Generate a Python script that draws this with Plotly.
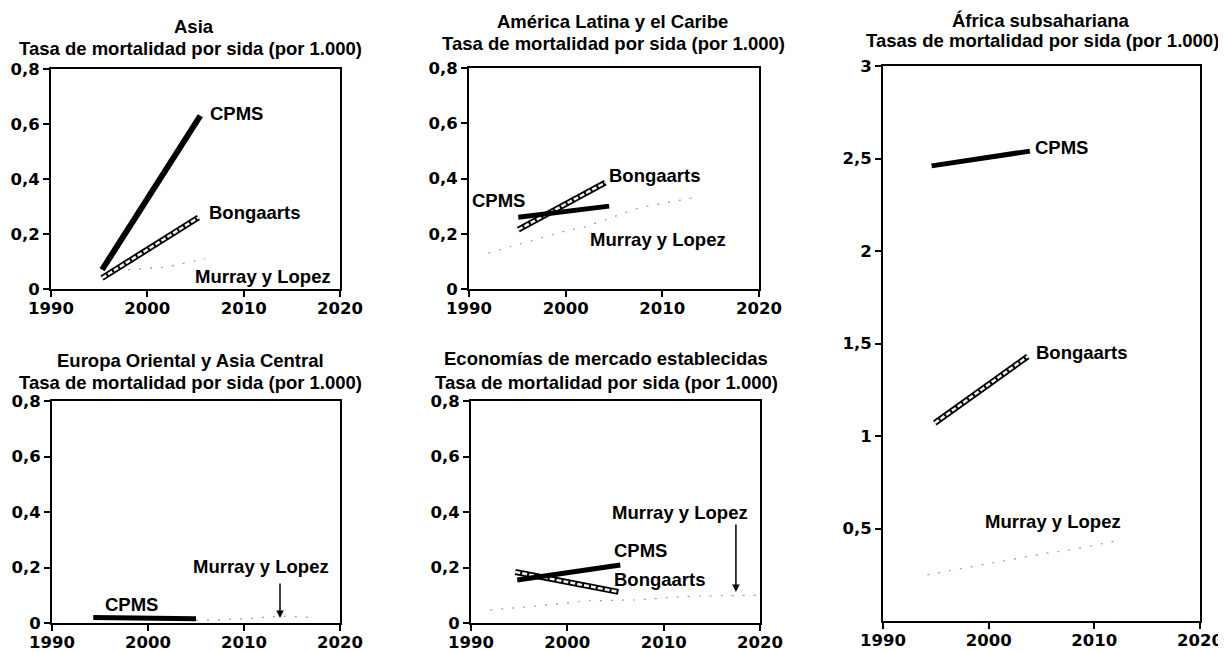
import plotly.graph_objects as go
from plotly.subplots import make_subplots

# the page puts the figure 8px in from the top-left corner
PAGE_OFF = 8
W, H = 1226 - PAGE_OFF, 652 - PAGE_OFF

# ---- data ----
year_ticks = [1990, 2000, 2010, 2020]
year_labels = ["1990", "2000", "2010", "2020"]
rate_ticks = [0, 0.2, 0.4, 0.6, 0.8]
rate_labels = ["0", "0,2", "0,4", "0,6", "0,8"]
africa_ticks = [0.5, 1, 1.5, 2, 2.5, 3]
africa_labels = ["0,5", "1", "1,5", "2", "2,5", "3"]

# Asia
asia_cpms_x = [1995.3, 2005.5]
asia_cpms_y = [0.07, 0.63]
asia_bong_x = [1995.3, 2005.3]
asia_bong_y = [0.04, 0.26]
asia_ml_x = [1998, 2002, 2006]
asia_ml_y = [0.07, 0.08, 0.11]

# América Latina y el Caribe
latam_cpms_x = [1995.1, 2004.5]
latam_cpms_y = [0.26, 0.30]
latam_bong_x = [1995.1, 2004.1]
latam_bong_y = [0.215, 0.385]
latam_ml_x = [1992, 1994, 2000, 2002, 2007.7, 2013.2]
latam_ml_y = [0.13, 0.15, 0.21, 0.225, 0.295, 0.33]

# África subsahariana
africa_cpms_x = [1994.6, 2003.9]
africa_cpms_y = [2.46, 2.54]
africa_bong_x = [1994.9, 2003.7]
africa_bong_y = [1.07, 1.43]
africa_ml_x = [1994.2, 2000.1, 2001.8, 2005.8, 2007.4, 2011.8]
africa_ml_y = [0.25, 0.31, 0.33, 0.37, 0.38, 0.43]

# Europa Oriental y Asia Central
europe_cpms_x = [1994.3, 2005.0]
europe_cpms_y = [0.02, 0.015]
europe_ml_x = [2005, 2010, 2014, 2017]
europe_ml_y = [0.01, 0.015, 0.025, 0.02]

# Economías de mercado establecidas
eme_cpms_x = [1994.8, 2005.5]
eme_cpms_y = [0.155, 0.209]
eme_bong_x = [1994.6, 2005.3]
eme_bong_y = [0.184, 0.112]
eme_ml_x = [1992, 1998, 2002, 2007, 2013, 2017, 2020]
eme_ml_y = [0.047, 0.065, 0.08, 0.083, 0.097, 0.1, 0.1]

TEXT_FONT = dict(family="Liberation Sans", size=18.5, color="black", weight="bold")
TICK_FONT = dict(family="DejaVu Sans", size=16.5, color="black", weight="bold")

fig = make_subplots(
    rows=2, cols=3,
    specs=[[{}, {}, {"rowspan": 2}], [{}, {}, None]],
)


def px_x(px):
    return (px - PAGE_OFF) / W


def px_y(py):
    return 1 - (py - PAGE_OFF) / H


def dom(x0, x1, y0, y1):
    # page pixel box -> paper domains
    return [px_x(x0), px_x(x1)], [px_y(y1), px_y(y0)]


def add_cpms(x, y, row, col, width=6):
    fig.add_trace(go.Scatter(x=x, y=y, mode="lines",
                             line=dict(color="black", width=width)), row=row, col=col)


def add_bong(x, y, row, col):
    # double line with a hatched light core
    fig.add_trace(go.Scatter(x=x, y=y, mode="lines",
                             line=dict(color="black", width=6)), row=row, col=col)
    fig.add_trace(go.Scatter(x=x, y=y, mode="lines",
                             line=dict(color="#f2f2f2", width=2.5, dash="5px,2px")), row=row, col=col)


def add_ml(x, y, row, col):
    fig.add_trace(go.Scatter(x=x, y=y, mode="lines",
                             line=dict(color="#9a9a9a", width=1.2, dash="2px,9px")), row=row, col=col)


# Asia
add_ml(asia_ml_x, asia_ml_y, 1, 1)
add_bong(asia_bong_x, asia_bong_y, 1, 1)
add_cpms(asia_cpms_x, asia_cpms_y, 1, 1)
# Latin America
add_ml(latam_ml_x, latam_ml_y, 1, 2)
add_bong(latam_bong_x, latam_bong_y, 1, 2)
add_cpms(latam_cpms_x, latam_cpms_y, 1, 2, width=5)
# Africa
add_ml(africa_ml_x, africa_ml_y, 1, 3)
add_bong(africa_bong_x, africa_bong_y, 1, 3)
add_cpms(africa_cpms_x, africa_cpms_y, 1, 3, width=5)
# Eastern Europe
add_ml(europe_ml_x, europe_ml_y, 2, 1)
add_cpms(europe_cpms_x, europe_cpms_y, 2, 1, width=5)
# Established market economies
add_ml(eme_ml_x, eme_ml_y, 2, 2)
add_bong(eme_bong_x, eme_bong_y, 2, 2)
add_cpms(eme_cpms_x, eme_cpms_y, 2, 2, width=5)

boxes = {
    1: dom(51, 340, 69, 289),
    2: dom(469, 759, 68, 289),
    3: dom(883, 1200, 66, 621),
    4: dom(52, 340, 401, 623),
    5: dom(471, 760, 401, 623),
}

axis_common = dict(showgrid=False, zeroline=False, showline=True, linecolor="black",
                   linewidth=2, mirror=True, ticks="outside", ticklen=6, tickwidth=2,
                   tickcolor="black", tickfont=TICK_FONT, automargin=False)

layout_axes = {}
for i, (xd, yd) in boxes.items():
    sfx = "" if i == 1 else str(i)
    layout_axes["xaxis" + sfx] = dict(domain=xd, range=[1990, 2020], tickvals=year_ticks,
                                      ticktext=year_labels, ticklabelstandoff=-3,
                                      **axis_common)
    if i == 3:
        layout_axes["yaxis" + sfx] = dict(domain=yd, range=[0, 3], tickvals=africa_ticks,
                                          ticktext=africa_labels, **axis_common)
    else:
        layout_axes["yaxis" + sfx] = dict(domain=yd, range=[0, 0.8], tickvals=rate_ticks,
                                          ticktext=rate_labels, **axis_common)
fig.update_layout(**layout_axes)

# titles (page pixel positions -> paper)
titles = [
    ("Asia", 194, 26), ("Tasa de mortalidad por sida (por 1.000)", 190, 48),
    ("América Latina y el Caribe", 612, 22), ("Tasa de mortalidad por sida (por 1.000)", 613, 43),
    ("África subsahariana", 1041, 20), ("Tasas de mortalidad por sida (por 1.000)", 1042, 41),
    ("Europa Oriental y Asia Central", 190, 360), ("Tasa de mortalidad por sida (por 1.000)", 190, 382),
    ("Economías de mercado establecidas", 606, 359), ("Tasa de mortalidad por sida (por 1.000)", 606, 382),
]
for txt, px, py in titles:
    fig.add_annotation(text=txt, x=px_x(px), y=px_y(py), xref="paper", yref="paper",
                       showarrow=False, xanchor="center", yanchor="middle", font=TEXT_FONT)

# series labels (data coords)
labels = [
    ("CPMS", 2009.3, 0.64, "x", "y"), ("Bongaarts", 2011.2, 0.28, "x", "y"),
    ("Murray y Lopez", 2012.0, 0.044, "x", "y"),
    ("CPMS", 1993.0, 0.32, "x2", "y2"), ("Bongaarts", 2009.2, 0.41, "x2", "y2"),
    ("Murray y Lopez", 2009.5, 0.18, "x2", "y2"),
    ("CPMS", 2006.9, 2.56, "x3", "y3"), ("Bongaarts", 2008.8, 1.45, "x3", "y3"),
    ("Murray y Lopez", 2006.1, 0.54, "x3", "y3"),
    ("CPMS", 1998.3, 0.065, "x4", "y4"), ("Murray y Lopez", 2011.8, 0.205, "x4", "y4"),
    ("Murray y Lopez", 2011.7, 0.40, "x5", "y5"), ("CPMS", 2007.6, 0.26, "x5", "y5"),
    ("Bongaarts", 2009.6, 0.155, "x5", "y5"),
]
for txt, lx, ly, xr, yr in labels:
    fig.add_annotation(text=txt, x=lx, y=ly, xref=xr, yref=yr, showarrow=False,
                       xanchor="center", yanchor="middle", font=TEXT_FONT)

# arrows pointing at the Murray y Lopez lines
arrows = [(2013.75, 0.018, 0.148, "x4", "y4"), (2017.5, 0.112, 0.36, "x5", "y5")]
for axx, tip, tail, xr, yr in arrows:
    fig.add_annotation(text="", x=axx, y=tip, ax=axx, ay=tail, xref=xr, yref=yr,
                       axref=xr, ayref=yr, showarrow=True, arrowhead=2, arrowsize=1,
                       arrowwidth=1.5, arrowcolor="black")

fig.update_layout(width=W, height=H, margin=dict(l=0, r=0, t=0, b=0),
                  showlegend=False, plot_bgcolor="white", paper_bgcolor="white")

fig.write_html("out.html")
